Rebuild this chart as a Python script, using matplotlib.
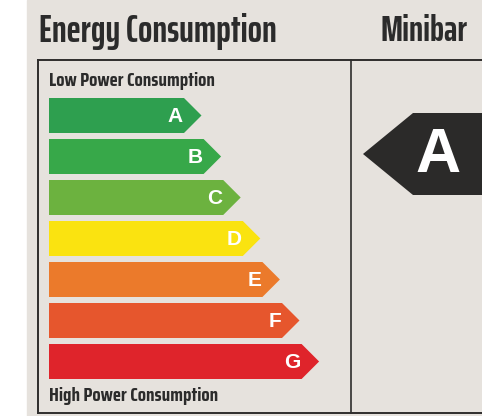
import matplotlib
matplotlib.use('Agg')
import matplotlib.pyplot as plt
from matplotlib.patches import Polygon, Rectangle

# Energy classes and their colours
grades = ['A', 'B', 'C', 'D', 'E', 'F', 'G']
grade_colors = ['#2e9f4f', '#37a849', '#6cb23f', '#fae310', '#eb7a2b', '#e6562d', '#df242b']
rating = 'A'
product = 'Minibar'
title = 'Energy Consumption'
top_label = 'Low Power Consumption'
bottom_label = 'High Power Consumption'

narrow = ['Saira ExtraCondensed', 'DejaVu Sans']
cond = ['Saira Condensed', 'DejaVu Sans']

W, H = 482, 416
fig = plt.figure(figsize=(W / 100, H / 100), dpi=100)
ax = fig.add_axes([0, 0, 1, 1])
ax.set_xlim(0, W)
ax.set_ylim(H, 0)
ax.axis('off')

bg = '#e6e2dd'
line = '#2e2d2c'
ax.add_patch(Rectangle((27, 0), W - 27, H, color=bg, zorder=0))

# frame
ax.plot([38, W], [60, 60], color=line, lw=1.4)
ax.plot([38, 38], [60, 413], color=line, lw=1.4)
ax.plot([38, W], [413, 413], color=line, lw=1.4)
ax.plot([351, 351], [60, 413], color=line, lw=1.2)

ax.text(39, 31, title, fontsize=27, fontweight='bold', family=narrow,
        color='#2b2b2b', va='center', ha='left')
ax.text(424, 31, product, fontsize=26, fontweight='bold', family=narrow,
        color='#2b2b2b', va='center', ha='center')
ax.text(49, 81, top_label, fontsize=13.7, fontweight='bold', family=cond,
        color='#2b2b2b', va='center', ha='left')
ax.text(49, 396, bottom_label, fontsize=13.7, fontweight='bold', family=cond,
        color='#2b2b2b', va='center', ha='left')

# bars
x0, y0, pitch, h, step = 49, 98, 41, 35, 19.6
for i, (g, c) in enumerate(zip(grades, grade_colors)):
    top = y0 + i * pitch
    right = 184 + i * step
    pts = [(x0, top), (right, top), (right + h / 2, top + h / 2),
           (right, top + h), (x0, top + h)]
    ax.add_patch(Polygon(pts, closed=True, color=c, lw=0))
    ax.text(right - 1, top + h / 2 + 1, g, color='white', fontsize=15,
            fontweight='bold', family='Liberation Sans', ha='right', va='center')

# rating indicator
it, ib, ix = 113, 195, 413
pts = [(363, (it + ib) / 2), (ix, it), (W, it), (W, ib), (ix, ib)]
ax.add_patch(Polygon(pts, closed=True, color='#2b2a29', lw=0))
ax.text(438, (it + ib) / 2 + 1, rating, color='white', fontsize=45,
        fontweight='bold', family='Liberation Sans', ha='center', va='center')

fig.savefig('out.png', dpi=100, facecolor='white')
